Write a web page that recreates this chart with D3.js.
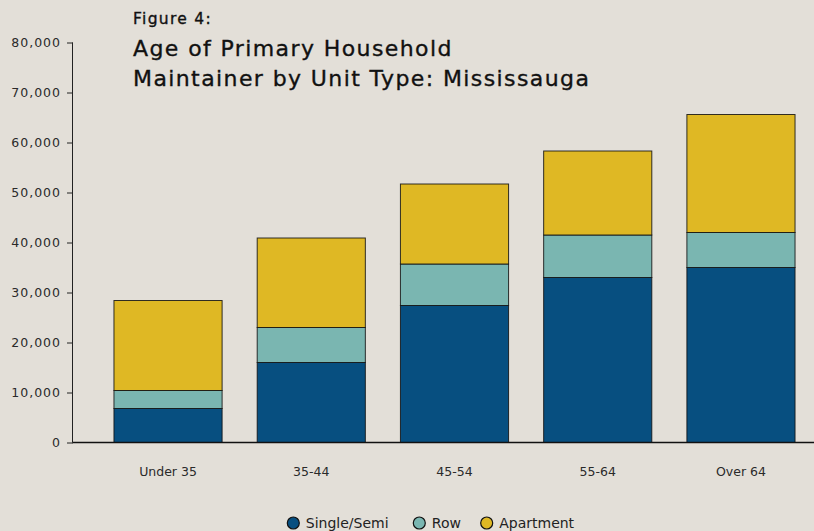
<!DOCTYPE html>
<html>
<head>
<meta charset="utf-8">
<script src="https://cdn.jsdelivr.net/npm/d3@7"></script>
<style>
  body { margin: 0; background: #e3dfd8; }
  svg { display: block; font-family: 'DejaVu Sans', sans-serif; }
</style>
</head>
<body>
<div id="chart"></div>
<script>
const ageGroups = ['Under 35', '35-44', '45-54', '55-64', 'Over 64']
const unitTypes = ['Single/Semi', 'Row', 'Apartment']
const singleSemi = [6800, 16000, 27400, 33000, 35000]
const row = [3600, 7000, 8300, 8500, 7000]
const apartment = [18000, 17900, 16000, 16800, 23600]
const yTicks = [0, 10000, 20000, 30000, 40000, 50000, 60000, 70000, 80000]
const colors = ['#074f80', '#7ab6b1', '#dfb824']

const W = 814, H = 531
const margin = { top: 42.5, left: 73, bottom: 88.5 }
const y0 = H - margin.bottom

const svg = d3.select('#chart').append('svg')
  .attr('width', W).attr('height', H)

svg.append('rect').attr('width', W).attr('height', H).attr('fill', '#e3dfd8')

const table = ageGroups.map((g, i) => ({
  group: g,
  'Single/Semi': singleSemi[i],
  Row: row[i],
  Apartment: apartment[i],
}))

const stack = d3.stack().keys(unitTypes)(table)

const x = d3.scaleBand()
  .domain(ageGroups)
  .range([margin.left, 836])
  .paddingInner(0.245)
  .paddingOuter(0.286)

const y = d3.scaleLinear().domain([0, 80000]).range([y0, margin.top])

const color = d3.scaleOrdinal().domain(unitTypes).range(colors)

// bars
svg.append('g')
  .selectAll('g')
  .data(stack)
  .join('g')
  .attr('fill', d => color(d.key))
  .selectAll('rect')
  .data(d => d)
  .join('rect')
  .attr('x', d => x(d.data.group))
  .attr('y', d => y(d[1]))
  .attr('width', x.bandwidth())
  .attr('height', d => y(d[0]) - y(d[1]))
  .attr('stroke', '#111')
  .attr('stroke-opacity', 0.85)
  .attr('stroke-width', 1)

// y axis
svg.append('g')
  .attr('transform', `translate(${margin.left},0)`)
  .call(d3.axisLeft(y).tickValues(yTicks).tickSize(6).tickPadding(6)
    .tickFormat(d3.format(',')))
  .call(g => g.select('.domain').attr('d', `M-0.5,${margin.top}V${y0}`).attr('stroke', '#222'))
  .call(g => g.selectAll('.tick line').attr('stroke', '#222'))
  .call(g => g.selectAll('.tick text')
    .attr('fill', '#2a2a2a').style('font-size', '12.5px')
    .style('letter-spacing', '1px')
    .style('font-family', "'DejaVu Sans', sans-serif"))

// x axis
svg.append('line')
  .attr('x1', margin.left - 0.5).attr('x2', W)
  .attr('y1', y0).attr('y2', y0)
  .attr('stroke', '#111').attr('stroke-width', 1.3)

svg.append('g')
  .selectAll('text')
  .data(ageGroups)
  .join('text')
  .attr('x', d => x(d) + x.bandwidth() / 2)
  .attr('y', y0 + 33)
  .attr('text-anchor', 'middle')
  .attr('fill', '#2a2a2a')
  .style('font-size', '12.5px')
  .text(d => d)

// title
const title = svg.append('g').attr('fill', '#111')
  .attr('stroke', '#111').attr('stroke-width', 0.35)
title.append('text')
  .attr('x', 133).attr('y', 24)
  .style('font-size', '15.5px')
  .style('letter-spacing', '1.3px')
  .text('Figure 4:')
title.append('text')
  .attr('x', 133).attr('y', 56)
  .style('font-size', '22px')
  .style('letter-spacing', '1.4px')
  .text('Age of Primary Household')
title.append('text')
  .attr('x', 133).attr('y', 86)
  .style('font-size', '22px')
  .style('letter-spacing', '1.4px')
  .text('Maintainer by Unit Type: Mississauga')

// legend
const legendX = [293.3, 419.3, 486.7]
const legend = svg.append('g')
  .selectAll('g')
  .data(unitTypes)
  .join('g')
  .attr('transform', (d, i) => `translate(${legendX[i]},523)`)
legend.append('circle')
  .attr('r', 6)
  .attr('fill', d => color(d))
  .attr('stroke', '#111')
  .attr('stroke-width', 1.2)
legend.append('text')
  .attr('x', 12.5)
  .attr('dy', '0.35em')
  .attr('fill', '#222')
  .style('font-size', '14px')
  .text(d => d)
</script>
</body>
</html>
